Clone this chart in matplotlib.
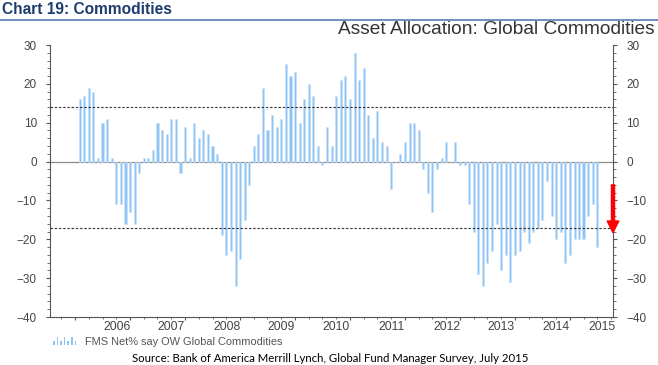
import matplotlib
matplotlib.use('Agg')
import matplotlib.pyplot as plt
import matplotlib.dates as mdates
from matplotlib.ticker import MultipleLocator, NullFormatter
from matplotlib.patches import Rectangle
from matplotlib.lines import Line2D
from matplotlib.legend_handler import HandlerBase
import pandas as pd

# ── Data: FMS net % overweight global commodities, monthly ───────────────────
months = pd.date_range('2006-02-01', '2015-07-01', freq='MS')
net_ow = [16, 17, 19, 18, 1, 10, 11, 1, -11, -11, -16, -13,
          -16, -3, 1, 1, 3, 10, 8, 7, 11, 11, -3, 9,
          1, 10, 6, 8, 7, 4, 2, -19, -24, -23, -32, -25,
          -15, -6, 4, 7, 19, 8, 12, 9, 11, 25, 22, 23,
          10, 16, 20, 17, 4, -1, 9, 4, 17, 21, 22, 16,
          28, 21, 24, 12, 6, 13, 5, 4, -7, 0, 2, 5,
          10, 10, 8, -2, -8, -13, -2, 1, 5, 0, 5, -1,
          -1, -11, -18, -29, -32, -26, -23, -16, -28, -24, -31, -24,
          -23, -18, -21, -18, -17, -15, -5, -14, -20, -18, -26, -24,
          -20, -20, -20, -14, -11, -22]
year_labels = [str(y) for y in range(2006, 2016)]
band_hi, band_lo = 14.0, -17.2      # dashed reference lines
arrow_from, arrow_to = -6.0, -18.3  # red arrow on right axis

W, H = 658, 365
BAR = '#90C4F6'
TXT = '#444444'
SANS = ['Liberation Sans', 'DejaVu Sans']
plt.rcParams['font.family'] = SANS


class BarsHandler(HandlerBase):
    # little "|ı|ı|ı" icon like the original legend
    def create_artists(self, legend, orig_handle, xdescent, ydescent,
                       width, height, fontsize, trans):
        hs = [0.55, 1.0, 0.55, 1.0, 0.55, 1.0, 0.55]
        step = width / len(hs)
        return [Rectangle((-xdescent + i * step, -ydescent), step * 0.45,
                          height * h, facecolor=BAR, edgecolor='none',
                          transform=trans) for i, h in enumerate(hs)]


fig = plt.figure(figsize=(W / 100, H / 100), dpi=100)
ax = fig.add_axes([50 / W, 1 - 317 / H, (613 - 50) / W, (317 - 45) / H])

bars = ax.bar(months, net_ow, width=14, color=BAR, edgecolor='#C8E2FB',
              linewidth=0.4, zorder=2)
ax.axhline(0, color='#8C8C8C', lw=0.9, zorder=1)
for lvl in (band_hi, band_lo):
    ax.axhline(lvl, color='#333333', lw=0.8, ls=(0, (2.2, 1.6)), zorder=3)

ax.set_xlim(pd.Timestamp('2005-07-17'), pd.Timestamp('2015-10-14'))
ax.set_ylim(-40, 30)

# ── Axes styling ─────────────────────────────────────────────────────────────
ax.spines['top'].set_visible(False)
for s in ('left', 'right', 'bottom'):
    ax.spines[s].set_color('#555555')
    ax.spines[s].set_linewidth(0.8)

ax.yaxis.set_major_locator(MultipleLocator(10))
ax.yaxis.set_minor_locator(MultipleLocator(2))
ax.tick_params(axis='y', which='both', direction='out', left=True, right=True,
               labelleft=True, labelright=True, colors='#555555',
               labelcolor=TXT, labelsize=8.5)
ax.tick_params(axis='y', which='major', length=3, pad=6.5)
ax.tick_params(axis='y', which='minor', length=2)

ax.xaxis.set_major_locator(mdates.YearLocator())
ax.xaxis.set_minor_locator(mdates.MonthLocator(bymonth=[1, 4, 7, 10]))
ax.xaxis.set_major_formatter(NullFormatter())
ax.tick_params(axis='x', which='major', direction='out', length=2.5,
               colors='#555555')
ax.tick_params(axis='x', which='minor', direction='out', length=1.5,
               colors='#555555')

# year labels sit right-aligned against the tick that closes each year
xmax = ax.get_xlim()[1]
for lab in year_labels:
    nxt = mdates.date2num(pd.Timestamp(int(lab) + 1, 1, 1))
    x = min(nxt, xmax)
    dx = 2 if nxt > xmax else 0
    ax.annotate(lab, xy=(x, 0), xycoords=('data', 'axes fraction'),
                xytext=(dx, -3), textcoords='offset points',
                ha='right', va='top', fontsize=8.8, color=TXT)

# red arrow on the right-hand axis
ax.annotate('', xy=(1, arrow_to), xycoords=('axes fraction', 'data'),
            xytext=(1, arrow_from), textcoords=('axes fraction', 'data'),
            arrowprops=dict(arrowstyle='simple,head_length=0.84,head_width=0.83,tail_width=0.22',
                            color='#FF0000', mutation_scale=10,
                            shrinkA=0, shrinkB=0),
            annotation_clip=False, zorder=5)

# ── Titles, legend, source ──────────────────────────────────────────────────
fig.text(2 / W, 1 - 10 / H, 'Chart 19: Commodities', fontsize=11.2,
         fontweight='bold', color='#1F3C6E', va='center', ha='left',
         family=['Liberation Sans Narrow', 'Liberation Sans'])
fig.add_artist(Line2D([0, 1], [1 - 19.5 / H] * 2, color='#6F8FC0', lw=1.4,
                      transform=fig.transFigure))
fig.text(655 / W, 1 - 29 / H, 'Asset Allocation: Global Commodities',
         fontsize=13.8, color='#333333', ha='right', va='center')

fig.legend([bars], ['FMS Net% say OW Global Commodities'],
           handler_map={type(bars): BarsHandler()},
           loc='center left', bbox_to_anchor=(53 / W, 1 - 342 / H),
           frameon=False, fontsize=7.9, labelcolor='#555555',
           handlelength=2.3, handleheight=0.8, handletextpad=0.6,
           borderpad=0, borderaxespad=0)

fig.text(330 / W, 1 - 358 / H,
         'Source: Bank of America Merrill Lynch, Global Fund Manager Survey, July 2015',
         fontsize=8.2, family=['Lato', 'DejaVu Sans'], color='black',
         ha='center', va='center')

fig.savefig('out.png', dpi=100)
